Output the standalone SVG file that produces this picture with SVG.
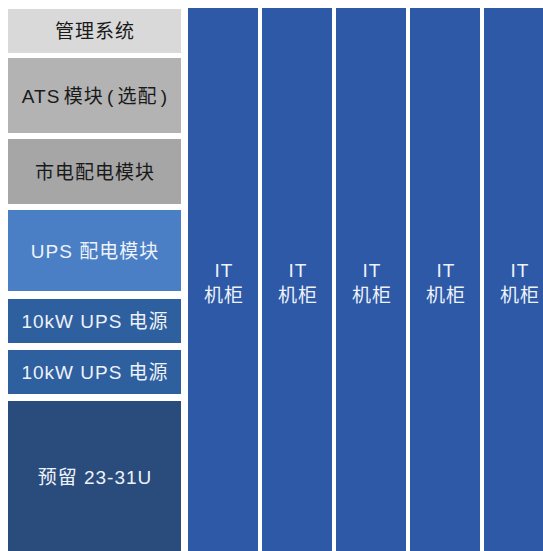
<svg xmlns="http://www.w3.org/2000/svg" width="543" height="551" viewBox="0 0 543 551">
<style>
text{font-family:"Liberation Sans","Noto Sans CJK SC",sans-serif;font-size:19px;letter-spacing:1px;text-anchor:middle;dominant-baseline:central}
.dk{fill:#1a1a1a}
.lt{fill:#eef2fa}
.it{fill:#2d59a7}
</style>
<rect width="543" height="551" fill="#ffffff"/>
<g id="mgmt"><rect x="8" y="9" width="173" height="44" fill="#d9d9d9"/><text class="dk" x="95" y="31">管理系统</text></g>
<g id="ats"><rect x="8" y="58" width="173" height="75" fill="#b3b3b3"/><text class="dk" x="95" y="96" word-spacing="-3">ATS 模块 ( 选配 )</text></g>
<g id="mains"><rect x="8" y="139" width="173" height="65" fill="#a6a6a6"/><text class="dk" x="95" y="172">市电配电模块</text></g>
<g id="upsdist"><rect x="8" y="210" width="173" height="81" fill="#4a7fc6"/><text class="lt" x="95" y="251">UPS 配电模块</text></g>
<g id="ups1"><rect x="8" y="299" width="173" height="44" fill="#2e5f9f"/><text class="lt" x="95" y="321">10kW UPS 电源</text></g>
<g id="ups2"><rect x="8" y="350" width="173" height="44" fill="#2e5f9f"/><text class="lt" x="95" y="372">10kW UPS 电源</text></g>
<g id="reserved"><rect x="8" y="401" width="173" height="150" fill="#294c7c"/><text class="lt" x="95" y="477">预留 23-31U</text></g>
<g id="it1"><rect class="it" x="188" y="8" width="70" height="543"/><text class="lt" x="224" y="270">IT</text><text class="lt" x="224" y="295">机柜</text></g>
<g id="it2"><rect class="it" x="262" y="8" width="70" height="543"/><text class="lt" x="298" y="270">IT</text><text class="lt" x="298" y="295">机柜</text></g>
<g id="it3"><rect class="it" x="336" y="8" width="70" height="543"/><text class="lt" x="372" y="270">IT</text><text class="lt" x="372" y="295">机柜</text></g>
<g id="it4"><rect class="it" x="410" y="8" width="70" height="543"/><text class="lt" x="446" y="270">IT</text><text class="lt" x="446" y="295">机柜</text></g>
<g id="it5"><rect class="it" x="484" y="8" width="70" height="543"/><text class="lt" x="520" y="270">IT</text><text class="lt" x="520" y="295">机柜</text></g>
<g id="connectors"></g>
</svg>
